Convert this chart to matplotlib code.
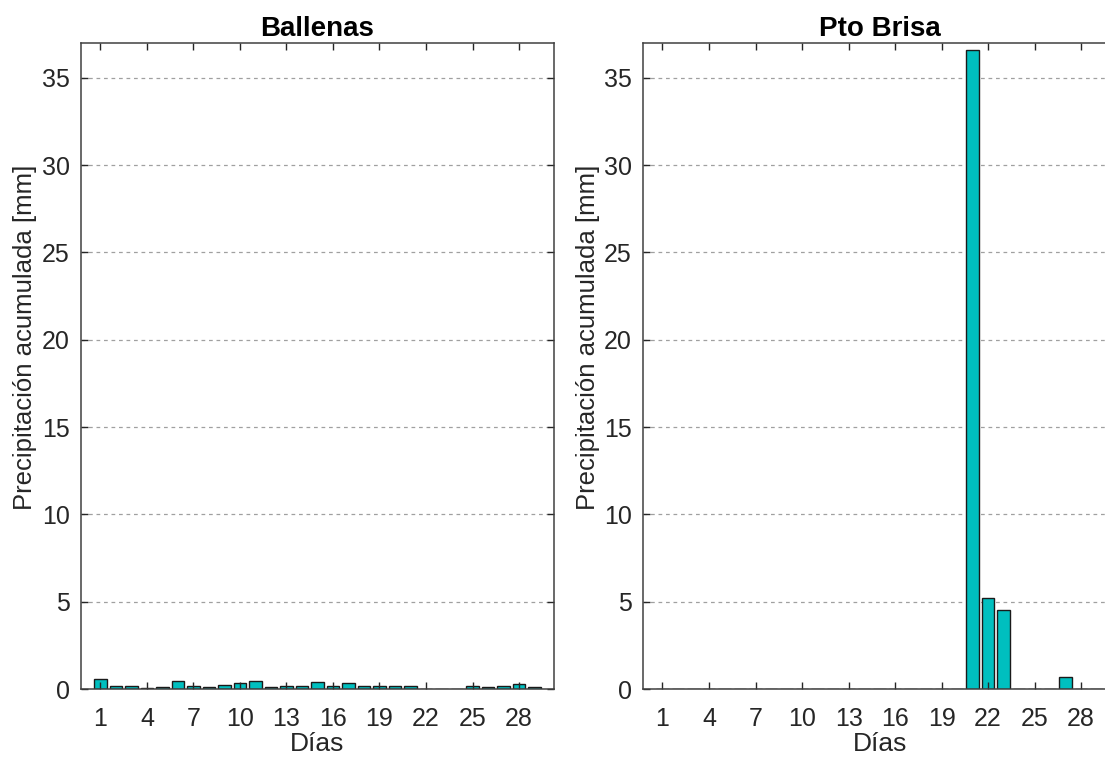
import numpy as np
import matplotlib
matplotlib.use('Agg')
import matplotlib.pyplot as plt

plt.rcParams['font.family'] = ['Liberation Sans', 'DejaVu Sans']

# Datos: precipitación acumulada diaria (mm)
dias = np.arange(1, 30)
ballenas = [0.6, 0.2, 0.2, 0.05, 0.1, 0.45, 0.15, 0.1, 0.25, 0.35,
            0.45, 0.1, 0.15, 0.2, 0.4, 0.15, 0.35, 0.15, 0.15, 0.2,
            0.2, 0.02, 0.0, 0.02, 0.2, 0.1, 0.15, 0.3, 0.1]
pto_brisa = [0, 0, 0, 0, 0, 0, 0, 0, 0, 0,
             0, 0, 0, 0, 0, 0, 0, 0, 0, 0,
             36.6, 5.2, 4.5, 0, 0, 0, 0.7, 0, 0]
titulos = ['Ballenas', 'Pto Brisa']
xticks = list(range(1, 29, 3))
yticks = list(range(0, 36, 5))

color_barra = '#00bfbf'
color_eje = '#262626'

fig = plt.figure(figsize=(11.05, 7.61), dpi=100)
posiciones = [[0.0733, 0.0946, 0.428, 0.849],
              [0.582, 0.0946, 0.428, 0.849]]

for pos, titulo, valores in zip(posiciones, titulos, [ballenas, pto_brisa]):
    ax = fig.add_axes(pos)
    ax.bar(dias, valores, width=0.8, color=color_barra, edgecolor='#1a1a1a',
           linewidth=1.0, zorder=1)
    # grilla horizontal por detrás de las barras
    for y in yticks[1:]:
        ax.axhline(y, color='#a0a0a0', linestyle=(0, (3, 3)), linewidth=0.9, zorder=0.5)
    ax.set_xlim(-0.25, 30.25)
    ax.set_ylim(0, 37)
    ax.set_xticks(xticks)
    ax.set_yticks(yticks)
    ax.tick_params(direction='in', length=5, width=1, top=True, right=True,
                   labelsize=18, colors=color_eje)
    ax.tick_params(axis='x', pad=13)
    ax.tick_params(axis='y', pad=8)
    for s in ax.spines.values():
        s.set_color('#404040')
        s.set_linewidth(1.1)
    ax.set_title(titulo, fontsize=20, fontweight='bold', color='black', pad=5)
    ax.set_xlabel('Días', fontsize=19, color=color_eje, labelpad=1)
    ax.set_ylabel('Precipitación acumulada [mm]', fontsize=18.5, color=color_eje)
    ax.yaxis.set_label_coords(-0.092, 0.545)

fig.savefig('out.png', dpi=100)
